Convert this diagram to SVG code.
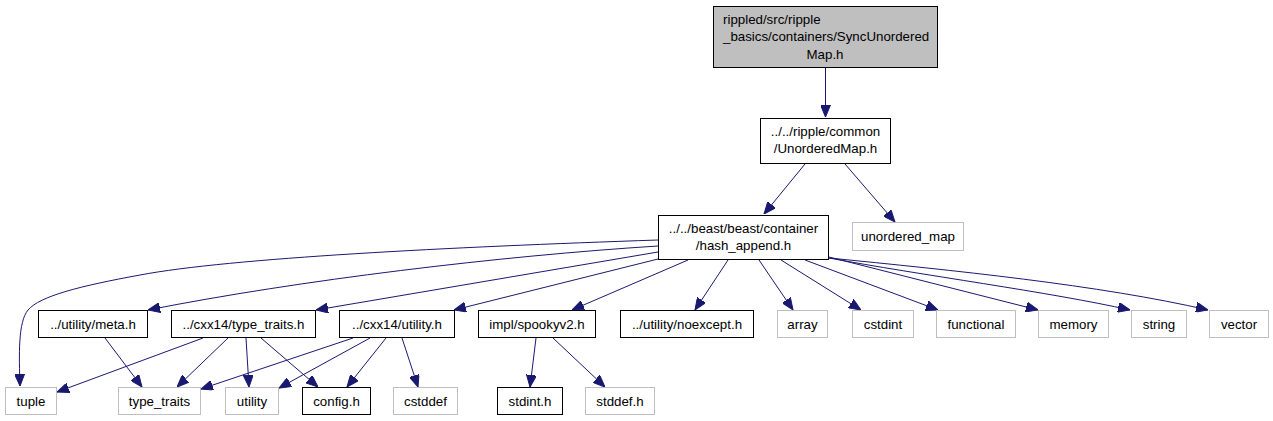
<svg xmlns="http://www.w3.org/2000/svg" width="1273" height="421" viewBox="0 0 1273 421">
<style>
.n rect{fill:#ffffff;stroke:#000000;stroke-width:1}
.n.ext rect{stroke:#bfbfbf}
.n.root rect{fill:#bfbfbf}
.n text{font-family:"Liberation Sans",Arial,Helvetica,sans-serif;font-size:13.3px;fill:#000000;text-anchor:middle}
.n text.l{text-anchor:start}
#edges path{fill:none;stroke:#191970;stroke-width:1;marker-end:url(#arr)}
</style>
<defs>
<marker id="arr" markerUnits="userSpaceOnUse" markerWidth="12" markerHeight="10" viewBox="0 0 12 10" refX="12" refY="5" orient="auto">
<path d="M0,0 L12,5 L0,10 z" fill="#191970" stroke="#191970" stroke-width="1"/>
</marker>
</defs>
<rect width="1273" height="421" fill="#ffffff"/>
<g id="edges">
<path d="M825.5,68 L825.5,117"/>
<path d="M805,164 L764,214"/>
<path d="M845,164 L895,222"/>
<path d="M658,240 C450,247 230,258 140,275 C80,286 40,296 28,310 C18,322 19,355 20,386"/>
<path d="M658,246 C500,256 300,280 148,310"/>
<path d="M658,252 L316,310"/>
<path d="M658,259 L454,310"/>
<path d="M688,260 L572,310"/>
<path d="M728,260 L695,310"/>
<path d="M759,260 L793,310"/>
<path d="M781,260 L861,310"/>
<path d="M805,260 L938,310"/>
<path d="M829,257 L1038,310"/>
<path d="M829,258 C920,275 1050,292 1130,310"/>
<path d="M829,258 C950,270 1100,285 1208,310"/>
<path d="M105,338 L142,387"/>
<path d="M203,338 L57,392"/>
<path d="M228,338 L177,387"/>
<path d="M246,338 L249,387"/>
<path d="M261,338 L318,387"/>
<path d="M353,338 L201,389"/>
<path d="M370,338 L279,388"/>
<path d="M386,338 L347,387"/>
<path d="M402,338 L418,387"/>
<path d="M536,338 L530,387"/>
<path d="M553,338 L605,387"/>
</g>
<g id="node-root" class="n root"><rect x="713.5" y="6.5" width="224" height="61"/>
<text class="l" x="723" y="23.5">rippled/src/ripple</text>
<text class="l" x="723" y="41">_basics/containers/SyncUnordered</text>
<text x="825" y="58.5">Map.h</text></g>
<g id="node-unorderedmap-h" class="n"><rect x="760.5" y="118.5" width="130" height="45"/>
<text x="825.5" y="136">../../ripple/common</text>
<text x="825.5" y="153">/UnorderedMap.h</text></g>
<g id="node-hash-append" class="n"><rect x="658.5" y="215.5" width="170" height="44"/>
<text x="743.5" y="233">../../beast/beast/container</text>
<text x="743.5" y="249.5">/hash_append.h</text></g>
<g id="node-unordered-map" class="n ext"><rect x="852.5" y="222.5" width="111" height="28"/>
<text x="908" y="241">unordered_map</text></g>
<g id="node-meta" class="n"><rect x="38.5" y="310.5" width="109" height="27"/>
<text x="93" y="328.5">../utility/meta.h</text></g>
<g id="node-cxx14-type-traits" class="n"><rect x="171.5" y="310.5" width="144" height="27"/>
<text x="243.5" y="328.5">../cxx14/type_traits.h</text></g>
<g id="node-cxx14-utility" class="n"><rect x="339.5" y="310.5" width="115" height="27"/>
<text x="397" y="328.5">../cxx14/utility.h</text></g>
<g id="node-spookyv2" class="n"><rect x="478.5" y="310.5" width="117" height="27"/>
<text x="537" y="328.5">impl/spookyv2.h</text></g>
<g id="node-noexcept" class="n"><rect x="620.5" y="310.5" width="133" height="27"/>
<text x="687" y="328.5">../utility/noexcept.h</text></g>
<g id="node-array" class="n ext"><rect x="777.5" y="310.5" width="50" height="27"/>
<text x="802.5" y="328.5">array</text></g>
<g id="node-cstdint" class="n ext"><rect x="852.5" y="310.5" width="61" height="27"/>
<text x="883" y="328.5">cstdint</text></g>
<g id="node-functional" class="n ext"><rect x="936.5" y="310.5" width="79" height="27"/>
<text x="976" y="328.5">functional</text></g>
<g id="node-memory" class="n ext"><rect x="1038.5" y="310.5" width="70" height="27"/>
<text x="1073.5" y="328.5">memory</text></g>
<g id="node-string" class="n ext"><rect x="1131.5" y="310.5" width="55" height="27"/>
<text x="1159" y="328.5">string</text></g>
<g id="node-vector" class="n ext"><rect x="1209.5" y="310.5" width="59" height="27"/>
<text x="1239" y="328.5">vector</text></g>
<g id="node-tuple" class="n ext"><rect x="5.5" y="387.5" width="51" height="27"/>
<text x="31" y="405.5">tuple</text></g>
<g id="node-type-traits" class="n ext"><rect x="118.5" y="387.5" width="82" height="27"/>
<text x="159.5" y="405.5">type_traits</text></g>
<g id="node-utility" class="n ext"><rect x="225.5" y="387.5" width="53" height="27"/>
<text x="252" y="405.5">utility</text></g>
<g id="node-config" class="n"><rect x="302.5" y="387.5" width="68" height="27"/>
<text x="336.5" y="405.5">config.h</text></g>
<g id="node-cstddef" class="n ext"><rect x="393.5" y="387.5" width="64" height="27"/>
<text x="425.5" y="405.5">cstddef</text></g>
<g id="node-stdint" class="n"><rect x="497.5" y="387.5" width="65" height="27"/>
<text x="530" y="405.5">stdint.h</text></g>
<g id="node-stddef" class="n ext"><rect x="585.5" y="387.5" width="69" height="27"/>
<text x="620" y="405.5">stddef.h</text></g>
</svg>
